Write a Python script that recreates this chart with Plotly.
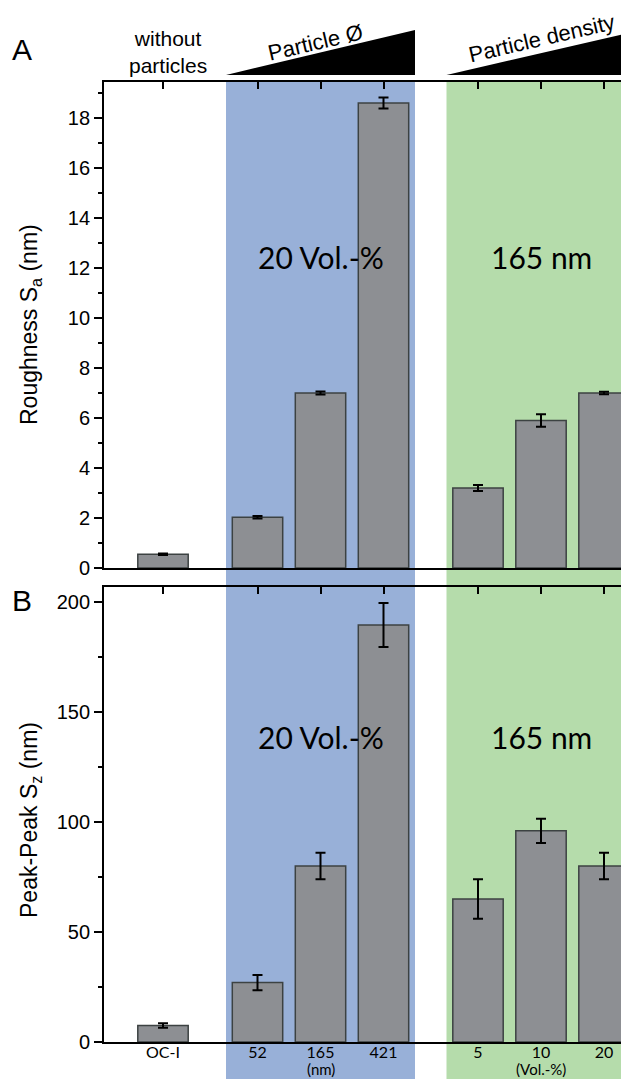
import plotly.graph_objects as go

# ---------------- data ----------------
categories = ["OC-I", "52", "165", "421", "5", "10", "20"]
tick_labels = ["OC-I", "52", "165", "421", "5", "10", "20"]
unit_labels = ["", "", "(nm)", "", "", "(Vol.-%)", ""]
x_pos = [0.0, 1.5, 2.5, 3.5, 5.0, 6.0, 7.0]

roughness_sa = [0.55, 2.03, 7.0, 18.6, 3.2, 5.9, 7.0]
roughness_err = [0.03, 0.05, 0.06, 0.22, 0.12, 0.25, 0.05]

peak_sz = [7.5, 27.0, 80.0, 189.5, 65.0, 96.0, 80.0]
peak_err = [1.0, 3.5, 6.0, 10.0, 9.0, 5.5, 6.0]

# ---------------- layout helpers (screen px -> figure) ----------------
OFF = 8                       # page body margin
W, H = 629 - 2 * OFF, 1087 - 2 * OFF
ML = 104 - OFF                # left margin in figure px
PW = W - ML                   # plot width


def py(sy):                   # screen y -> paper y
    return 1 - (sy - OFF) / H


def px(sx):                   # screen x -> paper x
    return (sx - OFF - ML) / PW


bar_fill = "#8d8f93"
bar_line = "#3c4242"
blue = "#98b0d8"
green = "#b5dcab"
arial = "Liberation Sans, Arial"
tick_font = dict(family=arial, size=20, color="black")
cal_font = "Lato, Open Sans"

unit = 63.0                   # px per category unit
x0_px = 163.0                 # screen x of first category
x_range = [(104 - x0_px) / unit, (629 - OFF - x0_px) / unit]
domA = [py(568), py(82)]
domB = [py(1042), py(587)]

fig = go.Figure()

fig.add_trace(go.Bar(
    x=x_pos, y=roughness_sa, width=0.8,
    marker=dict(color=bar_fill, line=dict(color=bar_line, width=1.5)),
    error_y=dict(type="data", array=roughness_err, color="black", thickness=2, width=5),
    xaxis="x", yaxis="y", showlegend=False))

fig.add_trace(go.Bar(
    x=x_pos, y=peak_sz, width=0.8,
    marker=dict(color=bar_fill, line=dict(color=bar_line, width=1.5)),
    error_y=dict(type="data", array=peak_err, color="black", thickness=2, width=5),
    xaxis="x2", yaxis="y2", showlegend=False))

# invisible traces to carry top tick axes
fig.add_trace(go.Scatter(x=x_pos, y=[None] * len(x_pos), xaxis="x3", yaxis="y",
                         showlegend=False, hoverinfo="skip"))
fig.add_trace(go.Scatter(x=x_pos, y=[None] * len(x_pos), xaxis="x4", yaxis="y2",
                         showlegend=False, hoverinfo="skip"))

common_x = dict(range=x_range, showgrid=False, zeroline=False, showline=True,
                linecolor="black", linewidth=1.8, ticks="", mirror=True, automargin=False)
top_x = dict(range=x_range, showgrid=False, zeroline=False, showline=False,
             ticks="inside", ticklen=7, tickwidth=1.5, tickcolor="black",
             tickvals=x_pos, showticklabels=False, side="top", automargin=False)
common_y = dict(showgrid=False, zeroline=False, showline=True, linecolor="black",
                linewidth=1.8, ticks="outside", ticklen=8, tickwidth=1.5, tick0=0,
                tickcolor="black", tickfont=tick_font, automargin=False)

fig.update_layout(
    width=W, height=H,
    margin=dict(l=ML, r=0, t=0, b=0),
    plot_bgcolor="rgba(0,0,0,0)", paper_bgcolor="white",
    barmode="overlay",
    xaxis=dict(**common_x, anchor="y", showticklabels=False),
    xaxis2=dict(**common_x, anchor="y2", tickvals=x_pos, ticktext=tick_labels,
                showticklabels=True, ticklabelstandoff=-5,
                tickfont=dict(family=cal_font, size=16, color="black")),
    xaxis3=dict(**top_x, overlaying="x", anchor="y"),
    xaxis4=dict(**top_x, overlaying="x2", anchor="y2"),
    yaxis=dict(**common_y, domain=domA, range=[0, 19.44], dtick=2,
               minor=dict(ticks="outside", ticklen=4, tickwidth=1.5, dtick=1, tickcolor="black")),
    yaxis2=dict(**common_y, domain=domB, range=[0, 206.8], dtick=50,
                minor=dict(ticks="outside", ticklen=4, tickwidth=1.5, dtick=25, tickcolor="black")),
)

# background bands derived from category positions
blue_x0, blue_x1 = x_pos[1] - 0.5, x_pos[3] + 0.5
green_x0, green_x1 = x_pos[4] - 0.5, x_pos[6] + 0.6
fig.add_shape(type="rect", xref="x", yref="paper", x0=blue_x0, x1=blue_x1,
              y0=0, y1=domA[1], fillcolor=blue, line_width=0, layer="below")
fig.add_shape(type="rect", xref="x", yref="paper", x0=green_x0, x1=green_x1,
              y0=0, y1=domA[1], fillcolor=green, line_width=0, layer="below")

# wedges above the bands
tri_base = py(75)
tri_top = py(30)
for a, b in [(blue_x0, blue_x1), (green_x0, green_x1)]:
    fig.add_shape(type="path", xref="x", yref="paper",
                  path=f"M {a} {tri_base} L {b} {tri_top} L {b} {tri_base} Z",
                  fillcolor="black", line_width=0)


def note(text, x, y, xref="paper", size=20, family=arial, angle=0):
    return dict(text=text, x=x, y=y, xref=xref, yref="paper", showarrow=False,
                xanchor="center", yanchor="middle", textangle=angle,
                font=dict(family=family, size=size, color="black"))


ann = [
    note("A", px(22), py(50), size=30),
    note("B", px(22), py(600), size=30),
    note("without<br>particles", x_pos[0] + 0.08, py(52), xref="x", size=21),
    note("Particle Ø", 2.42, py(42), xref="x", size=22, angle=-13),
    note("Particle density", 6.0, py(38), xref="x", size=22, angle=-13),
    note("Roughness S<sub>a</sub> (nm)", px(30), py(325), size=23, angle=-90),
    note("Peak-Peak S<sub>z</sub> (nm)", px(30), py(820), size=23, angle=-90),
]
for sy in [257, 737]:
    ann.append(note("20 Vol.-%", x_pos[2], py(sy), xref="x", size=30, family=cal_font))
    ann.append(note("165 nm", x_pos[5], py(sy), xref="x", size=30, family=cal_font))
for xv, lab in zip(x_pos, unit_labels):
    if lab:
        ann.append(note(lab, xv, py(1069), xref="x", size=15, family=cal_font))
fig.update_layout(annotations=ann)

fig.write_html("out.html")
